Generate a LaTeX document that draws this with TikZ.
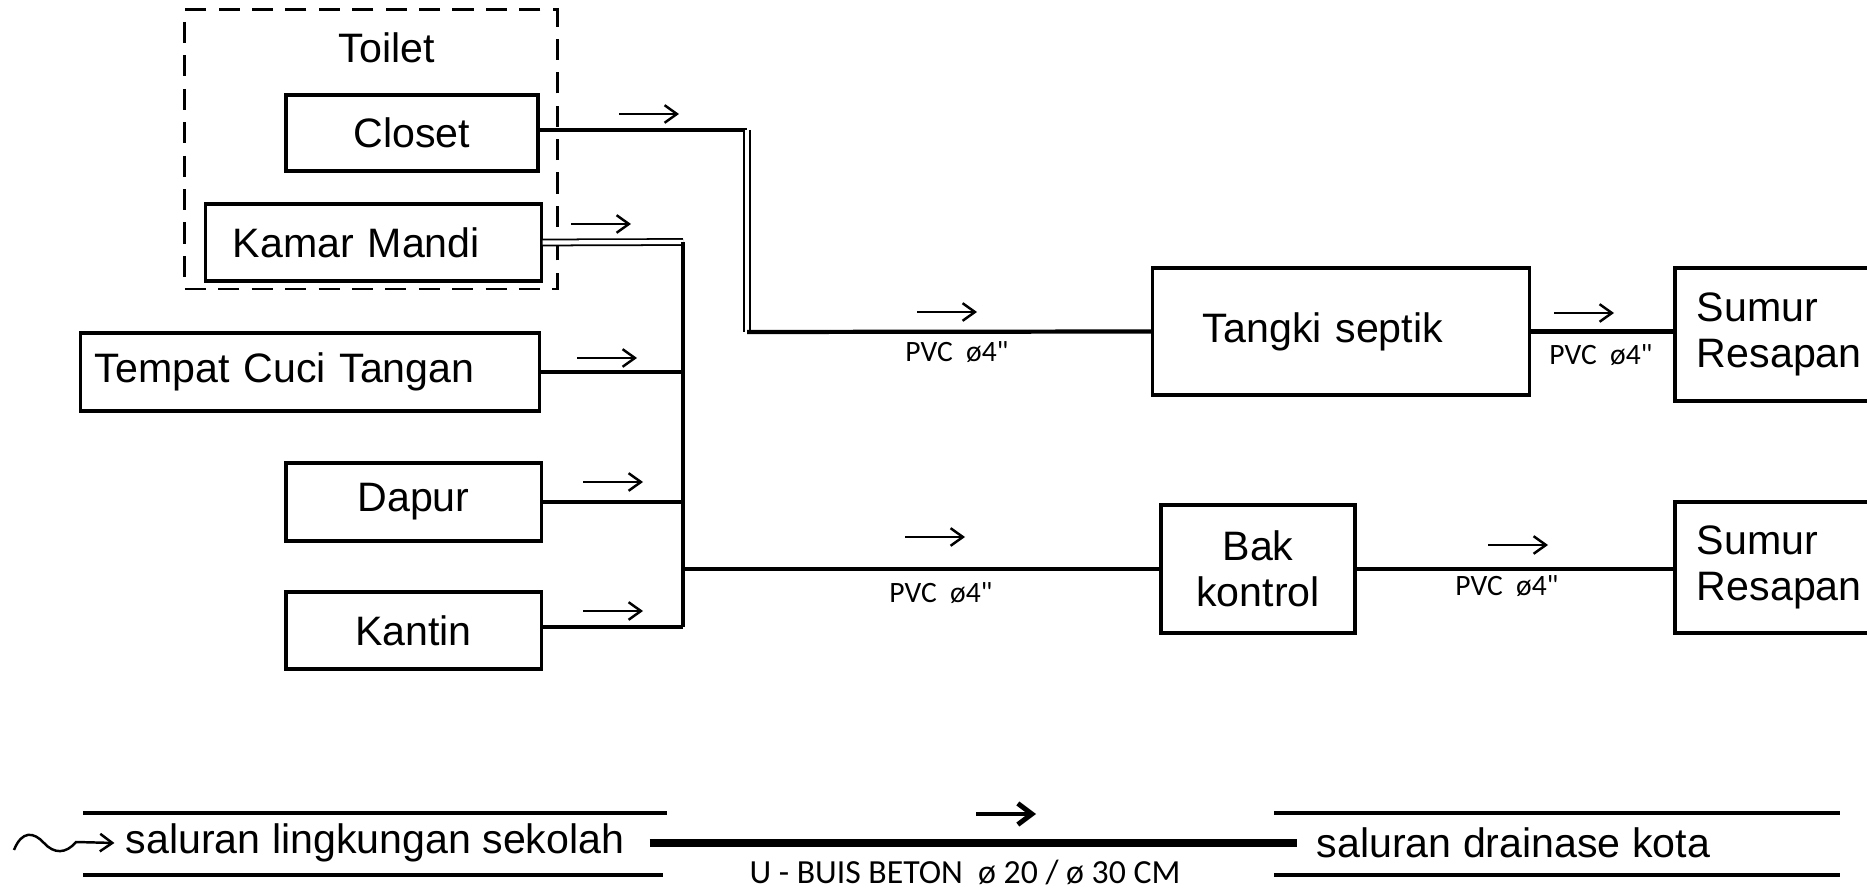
\documentclass[tikz,border=0pt]{standalone}
\usepackage{fontspec}
\setmainfont{Liberation Sans}
\newfontfamily\pvcfont{Carlito}
\usetikzlibrary{arrows.meta,positioning,calc}

\begin{document}
\begin{tikzpicture}[x=0.01cm, y=-0.01cm,
  unit/.style={draw,line width=0.9pt,inner sep=0pt,font=\fontsize{11.7}{13.2}\selectfont,align=center},
  pipe/.style={line width=1.2pt},
  twin/.style={double,line width=0.5pt,double distance=1.2pt},
  flow/.style={-{Straight Barb[length=3.5pt,width=5pt]},line width=0.7pt},
  pvc/.style={font=\pvcfont\fontsize{8.4}{10}\selectfont,inner sep=1pt},
  wall/.style={line width=1.3pt}]
  \useasboundingbox (0,0) rectangle (1867,889);
  \node[draw,line width=0.8pt,dash pattern=on 6pt off 3.5pt,minimum width=3.72cm,minimum height=2.79cm] (toilet) at (371,149.5) {};
  \node[font=\fontsize{11.7}{13.2}\selectfont] (toiletlbl) at (387,48) {Toilet};
  \node[unit,minimum width=2.52cm,minimum height=0.76cm] (closet) at (412,133) {Closet};
  \node[unit,inner xsep=0.27cm,text width=2.81cm,align=left,minimum height=0.77cm] (kamar) at (373.5,242.5) {Kamar Mandi};
  \node[unit,inner xsep=0.14cm,text width=4.30cm,align=left,minimum height=0.78cm] (tempat) at (310,372) {Tempat Cuci Tangan};
  \node[unit,minimum width=2.55cm,minimum height=0.78cm] (dapur) at (413.5,502) {Dapur};
  \node[unit,minimum width=2.55cm,minimum height=0.77cm] (kantin) at (413.5,630.5) {Kantin};
  \node[unit,inner xsep=0.5cm,text width=2.76cm,align=left,minimum height=1.27cm] (tangki) at (1341,331.5) {Tangki septik};
  \node[unit,minimum width=1.94cm,minimum height=1.28cm] (bak) at (1258,569) {Bak\\kontrol};
  \node[unit,inner xsep=0.22cm,text width=1.76cm,align=left,minimum height=1.33cm] (sumur1) at (1785,334.5) {Sumur\\Resapan};
  \node[unit,inner xsep=0.22cm,text width=1.76cm,align=left,minimum height=1.31cm] (sumur2) at (1785,567.5) {Sumur\\Resapan};

  \coordinate (cturn1) at (747,130); \coordinate (cturn2) at (747,332);
  \coordinate (ctop) at (683,242); \coordinate (cbot) at (683,627); \coordinate (cjoin) at (683,569);
  \draw[pipe] (closet.east |- cturn1) -- (cturn1); \draw[twin] (cturn1) -- (cturn2); \draw[pipe] (cturn2) -- (tangki.west);
  \draw[twin] (kamar.east) -- (ctop); \draw[pipe] (ctop) -- (cbot);
  \draw[pipe] (tempat.east) -- (tempat.east -| ctop);
  \draw[pipe] (dapur.east) -- (dapur.east -| ctop);
  \draw[pipe] (kantin.east |- cbot) -- (cbot);
  \draw[pipe] (cjoin) -- (bak.west);
  \draw[pipe] (tangki.east) -- (tangki.east -| sumur1.west);
  \draw[pipe] (bak.east) -- (bak.east -| sumur2.west);

  \foreach \x/\y in {619/114, 571/224, 577/358, 583/482, 583/611, 917/312, 1554/313, 905/537, 1488/545}
    \draw[flow] (\x,\y) -- ++(60,0);
  \node[pvc] (pvc1) at (957,352) {PVC\ \ ø4"};
  \node[pvc] (pvc2) at (1601,355) {PVC\ \ ø4"};
  \node[pvc] (pvc3) at (941,593) {PVC\ \ ø4"};
  \node[pvc] (pvc4) at (1507,586) {PVC\ \ ø4"};

  \draw[wall] (83,813) -- (667,813); \draw[wall] (83,875) -- (663,875);
  \draw[wall] (1274,813) -- (1840,813); \draw[wall] (1274,875) -- (1840,875);
  \node[font=\fontsize{11.7}{13.2}\selectfont,inner sep=0pt,anchor=west] (sekolah) at (125,843) {saluran lingkungan sekolah};
  \node[font=\fontsize{11.7}{13.2}\selectfont,inner sep=0pt,anchor=west] (kota) at (1316,843) {saluran drainase kota};
  \draw[line width=2pt,shorten <=7pt,shorten >=5.5pt] (sekolah.east) -- (kota.west);
  \draw[-{Straight Barb[length=4pt,width=6pt]},line width=1.4pt] (976,814) -- ++(60,0);
  \draw[flow] (14,850) .. controls (22,830) and (34,832) .. (44,843) .. controls (54,854) and (66,854) .. (76,842) -- ([xshift=-3pt]sekolah.west);
  \node[font=\pvcfont\fontsize{9.6}{11}\selectfont,inner sep=0pt] (buis) at (965,872) {U - BUIS BETON\ \ ø 20 / ø 30 CM};
\end{tikzpicture}
\end{document}
